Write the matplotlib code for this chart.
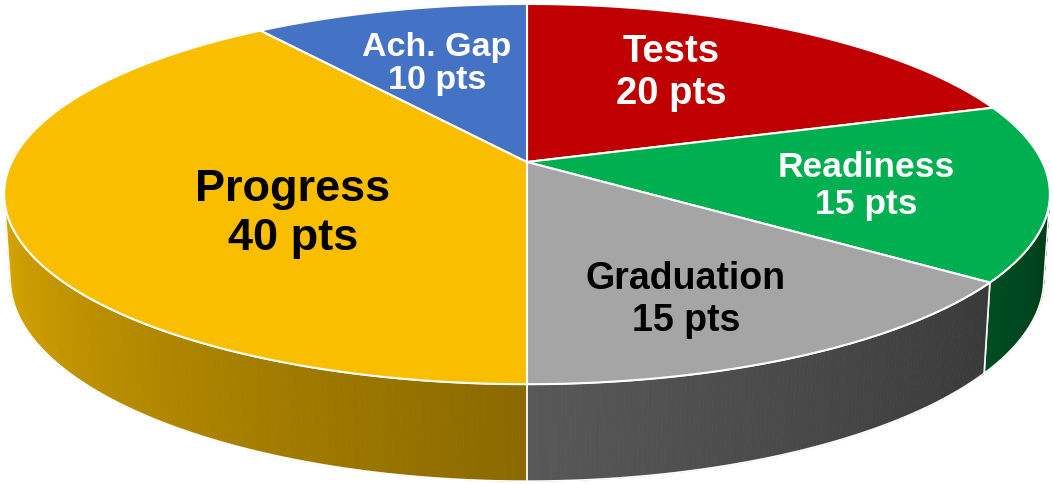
import numpy as np
import matplotlib
matplotlib.use("Agg")
import matplotlib.pyplot as plt
from matplotlib.patches import Polygon
from matplotlib.collections import PolyCollection
from matplotlib.colors import to_rgb

# Chart data (clockwise from 12 o'clock)
categories = ["Tests", "Readiness", "Graduation", "Progress", "Ach. Gap"]
points = [20, 15, 15, 40, 10]
top_colors = ["#C00000", "#00B050", "#A5A5A5", "#FABE00", "#4472C4"]
text_colors = ["white", "white", "black", "black", "white"]
# side wall shading: (left end, right end)
side_colors = [("#7A0000", "#600000"), ("#004D22", "#003C18"),
               ("#585858", "#393939"), ("#DAA700", "#8A6900"),
               ("#2C4A80", "#223A66")]

# label layout (pixel centres, font sizes, line spacing)
label_xy = [(671, 73), (866, 186), (686, 300), (293, 214), (437, 64)]
label_size = [27.5, 25.5, 27, 32.5, 24.5]
label_gap = [1.22, 1.15, 1.2, 1.22, 1.08]

# 3D projection parameters
CX, CY = 527, 163
ELEV = np.radians(21)
DIST = 5.53
FOCAL = 2850
DEPTH = 0.175


def project(theta, r=1.0, z=0.0):
    x = r * np.cos(theta)
    y = r * np.sin(theta)
    d = DIST + y * np.cos(ELEV) - z * np.sin(ELEV)
    sx = FOCAL * x / d
    sy = FOCAL * (y * np.sin(ELEV) + z * np.cos(ELEV)) / d
    return CX + sx, CY - sy


fig = plt.figure(figsize=(10.53, 4.85), dpi=100)
ax = fig.add_axes([0, 0, 1, 1])
ax.set_xlim(0, 1053)
ax.set_ylim(485, 0)
ax.axis("off")

total = sum(points)
starts = []
a = 90.0
for v in points:
    starts.append((a, a - 360.0 * v / total))
    a -= 360.0 * v / total

# visible range of the side wall
lim = np.degrees(np.arcsin(1.0 / (DIST * np.cos(ELEV))))
vis_lo, vis_hi = -180 + lim, -lim

# side walls
for (a0, a1), (cl, cr) in zip(starts, side_colors):
    hi = min(a0, vis_hi)
    lo = max(a1, vis_lo)
    if hi <= lo:
        continue
    th = np.radians(np.linspace(lo, hi, 120))
    xt, yt = project(th)
    xb, yb = project(th, z=-DEPTH)
    quads, cols = [], []
    c_left, c_right = np.array(to_rgb(cl)), np.array(to_rgb(cr))
    for i in range(len(th) - 1):
        quads.append([(xt[i], yt[i]), (xt[i + 1], yt[i + 1]),
                      (xb[i + 1], yb[i + 1]), (xb[i], yb[i])])
        f = 1 - i / (len(th) - 2)  # lo angle is the left-hand end
        cols.append(c_right + (c_left - c_right) * f)
    ax.add_collection(PolyCollection(quads, facecolors=cols, edgecolors=cols, linewidths=0.6))
    outline = np.vstack([np.column_stack([xt, yt]), np.column_stack([xb, yb])[::-1]])
    ax.add_patch(Polygon(outline, closed=True, fill=False, edgecolor="white", linewidth=1.2))

# top surface
for (a0, a1), col in zip(starts, top_colors):
    th = np.radians(np.linspace(a0, a1, 200))
    xs, ys = project(th)
    pts = np.vstack([[CX, CY], np.column_stack([xs, ys])])
    ax.add_patch(Polygon(pts, closed=True, facecolor=col, edgecolor="white", linewidth=1.5))

# labels
for name, v, (lx, ly), fs, ls, tc in zip(categories, points, label_xy, label_size,
                                         label_gap, text_colors):
    ax.text(lx, ly, f"{name}\n{v} pts", ha="center", va="center", fontsize=fs,
            fontweight="bold", color=tc, family=["Liberation Sans", "DejaVu Sans"],
            linespacing=ls)

fig.savefig("out.png", dpi=100, facecolor="white")
